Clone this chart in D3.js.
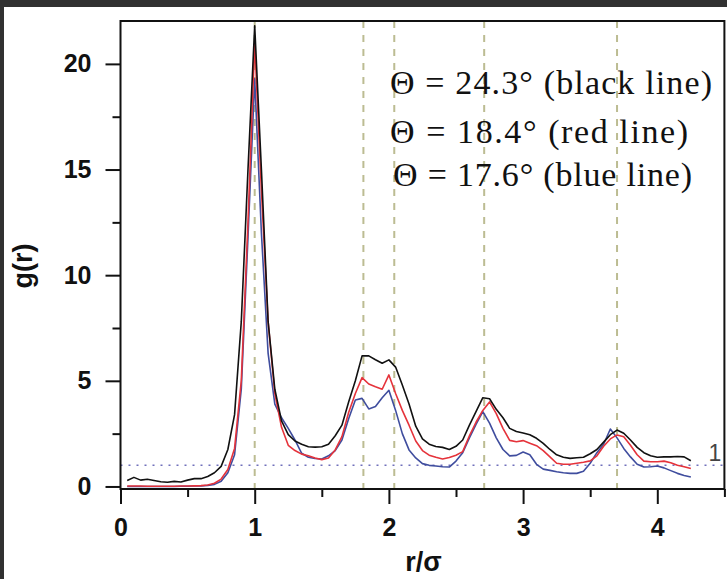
<!DOCTYPE html>
<meta charset="utf-8">
<style>
body { margin: 0; background: #fff; }
.line { fill: none; stroke-width: 1.6px; stroke-linejoin: round; }
.axis text { font-family: "Liberation Sans", Arial, sans-serif; font-weight: bold; font-size: 25px; fill: #111; }
.axis line { stroke: #111; stroke-width: 2px; }
.axis path { display: none; }
</style>
<body>
<script src="https://d3js.org/d3.v7.min.js"></script>
<script>

// r/sigma sampling grid
var r = [0.05,0.10,0.15,0.20,0.25,0.30,0.35,0.40,0.45,0.50,0.55,0.60,0.65,0.70,0.75,0.80,0.85,0.90,0.95,1.00,
         1.05,1.10,1.15,1.20,1.25,1.30,1.35,1.40,1.45,1.50,1.55,1.60,1.65,1.70,1.75,1.80,1.85,1.90,1.95,2.00,
         2.05,2.10,2.15,2.20,2.25,2.30,2.35,2.40,2.45,2.50,2.55,2.60,2.65,2.70,2.75,2.80,2.85,2.90,2.95,3.00,
         3.05,3.10,3.15,3.20,3.25,3.30,3.35,3.40,3.45,3.50,3.55,3.60,3.65,3.70,3.75,3.80,3.85,3.90,3.95,4.00,
         4.05,4.10,4.15,4.20,4.25];

// theta = 24.3
var gBlack = [0.28,0.43,0.30,0.34,0.28,0.22,0.20,0.24,0.21,0.30,0.37,0.37,0.47,0.65,0.95,1.75,3.4,7.8,15.0,21.8,
              15.0,7.8,4.6,3.1,2.45,2.15,2.0,1.88,1.86,1.88,2.0,2.4,2.9,4.0,5.0,6.18,6.18,6.0,5.83,5.99,
              5.65,4.8,3.9,2.85,2.25,2.0,1.89,1.85,1.75,1.9,2.2,2.9,3.55,4.2,4.15,3.65,3.25,2.75,2.6,2.53,
              2.45,2.28,2.04,1.75,1.5,1.38,1.33,1.36,1.38,1.55,1.75,2.1,2.45,2.67,2.52,2.2,1.85,1.6,1.45,1.38,
              1.4,1.4,1.42,1.4,1.22];

// theta = 18.4
var gRed = [0.02,0.02,0.02,0.01,0.01,0.01,0.01,0.01,0.02,0.02,0.03,0.04,0.07,0.15,0.35,0.8,1.8,5.0,12.5,21.0,
            14.0,7.8,4.4,2.8,1.95,1.7,1.53,1.45,1.35,1.27,1.35,1.73,2.36,3.5,4.4,5.15,4.85,4.72,4.6,5.28,
            4.4,3.6,2.9,2.15,1.7,1.48,1.38,1.3,1.37,1.48,1.65,2.4,3.05,3.6,4.0,3.45,2.75,2.18,2.12,2.17,
            2.05,1.93,1.7,1.4,1.1,1.05,1.05,1.1,1.15,1.21,1.45,1.9,2.25,2.44,2.35,1.95,1.5,1.2,1.17,1.17,
            1.2,1.12,1.0,0.93,0.85];

// theta = 17.6
var gBlue = [0.0,0.0,0.0,0.0,0.0,0.0,0.0,0.0,0.01,0.01,0.02,0.02,0.05,0.1,0.25,0.65,1.5,4.6,11.8,19.3,
             12.0,6.3,3.9,3.25,2.75,2.2,1.57,1.38,1.32,1.3,1.45,1.7,2.2,3.2,4.09,4.17,3.67,3.78,4.2,4.55,
             3.6,2.5,1.73,1.35,1.08,1.0,0.97,0.93,0.92,1.2,1.6,2.3,2.95,3.54,3.0,2.3,1.75,1.45,1.47,1.63,
             1.5,1.05,0.82,0.76,0.7,0.65,0.62,0.62,0.72,1.1,1.6,2.0,2.72,2.3,1.8,1.4,1.05,0.92,0.93,0.97,
             0.88,0.75,0.62,0.52,0.45];

var peakLines = [1.0, 1.81, 2.04, 2.71, 3.70];
var xTicks = [0, 1, 2, 3, 4];
var xMinor = [0.5, 1.5, 2.5, 3.5, 4.5];
var yTicks = [0, 5, 10, 15, 20];
var yMinor = [2.5, 7.5, 12.5, 17.5];
var legendLines = ["\u0398 = 24.3\u00b0 (black line)", "\u0398 = 18.4\u00b0 (red line)", "\u0398 = 17.6\u00b0 (blue line)"];

var margin = {top: 21, right: 2.6, bottom: 90, left: 120.5},
    width = 727 - margin.left - margin.right,
    height = 579 - margin.top - margin.bottom;

var x = d3.scaleLinear().domain([0, 4.5]).range([0, width]);
var y = d3.scaleLinear().domain([-0.12, 22.03]).range([height, 0]);

var root = d3.select("body").append("svg")
    .attr("width", 727)
    .attr("height", 579);

root.append("rect").attr("width", 727).attr("height", 579).attr("fill", "#fff");

var svg = root.append("g")
    .attr("transform", "translate(" + margin.left + "," + margin.top + ")");

// reference lines
svg.selectAll(".peak")
    .data(peakLines)
  .enter().append("line")
    .attr("x1", function(d) { return x(d); })
    .attr("x2", function(d) { return x(d); })
    .attr("y1", 0)
    .attr("y2", height)
    .style("stroke", "#bcbc92")
    .style("stroke-width", 2)
    .style("stroke-dasharray", "7,7");

svg.append("line")
    .attr("x1", 0).attr("x2", width)
    .attr("y1", y(1)).attr("y2", y(1))
    .style("stroke", "#7070bb")
    .style("stroke-width", 1.5)
    .style("stroke-dasharray", "2,6");

svg.append("text")
    .attr("x", x(4.43))
    .attr("y", y(1) - 4)
    .attr("text-anchor", "middle")
    .style("font-family", "Liberation Sans, Arial, sans-serif")
    .style("font-size", "23px")
    .style("fill", "#444")
    .text("1");

var series = [
  {values: gBlue, color: "#3f4d9e"},
  {values: gRed, color: "#e5333b"},
  {values: gBlack, color: "#111"}
];

var line = d3.line()
    .x(function(d, i) { return x(r[i]); })
    .y(function(d) { return y(d); });

series.forEach(function(s) {
  svg.append("path")
      .datum(s.values)
      .attr("class", "line")
      .style("stroke", s.color)
      .attr("d", line);
});

// axes
svg.append("g")
    .attr("class", "axis")
    .attr("transform", "translate(0," + height + ")")
    .call(d3.axisBottom(x).tickValues(xTicks).tickSize(15).tickPadding(14).tickFormat(d3.format("d")));

svg.append("g")
    .attr("class", "axis")
    .attr("transform", "translate(0," + height + ")")
    .call(d3.axisBottom(x).tickValues(xMinor).tickSize(8).tickFormat(""));

svg.append("g")
    .attr("class", "axis")
    .call(d3.axisLeft(y).tickValues(yTicks).tickSize(15).tickPadding(14).tickFormat(d3.format("d")));

svg.append("g")
    .attr("class", "axis")
    .call(d3.axisLeft(y).tickValues(yMinor).tickSize(8).tickFormat(""));

svg.append("rect")
    .attr("width", width)
    .attr("height", height)
    .style("fill", "none")
    .style("stroke", "#111")
    .style("stroke-width", 2);

// axis titles
svg.append("text")
    .attr("transform", "translate(-89," + (height / 2 + 11) + ") rotate(-90)")
    .attr("text-anchor", "middle")
    .style("font-family", "Liberation Sans, Arial, sans-serif")
    .style("font-weight", "bold")
    .style("font-size", "27px")
    .style("fill", "#111")
    .text("g(r)");

svg.append("text")
    .attr("x", 303)
    .attr("y", height + 82)
    .attr("text-anchor", "middle")
    .style("font-family", "Liberation Sans, Arial, sans-serif")
    .style("font-weight", "bold")
    .style("font-size", "27px")
    .style("fill", "#111")
    .text("r/\u03c3");

// legend text
var legendX = [390, 390, 393], legendY = [94, 143, 186], legendW = [322, 298, 299];
root.selectAll(".legend")
    .data(legendLines)
  .enter().append("text")
    .attr("x", function(d, i) { return legendX[i]; })
    .attr("y", function(d, i) { return legendY[i]; })
    .attr("textLength", function(d, i) { return legendW[i]; })
    .attr("lengthAdjust", "spacing")
    .style("font-family", "Liberation Serif, serif")
    .style("font-size", "34px")
    .style("fill", "#111")
    .text(function(d) { return d; });

// dark frame of the screenshot
root.append("rect").attr("width", 727).attr("height", 7).attr("fill", "#313131");
root.append("rect").attr("width", 4).attr("height", 579).attr("fill", "#313131");

</script>
</body>
